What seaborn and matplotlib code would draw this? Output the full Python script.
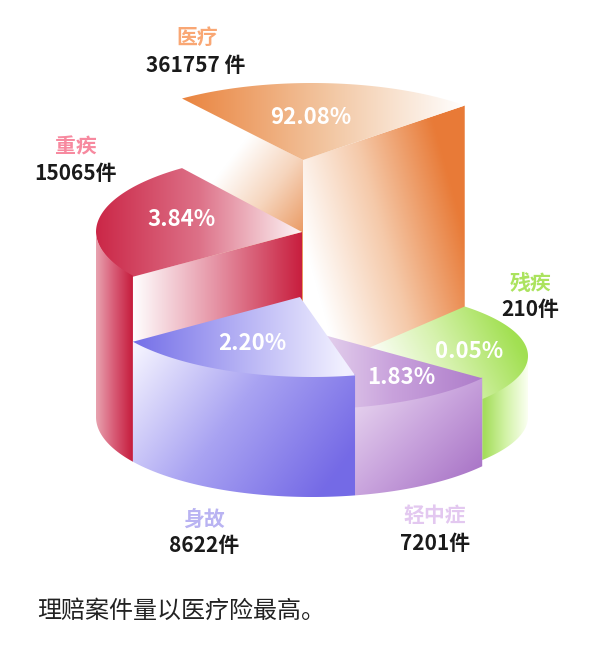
import numpy as np
import matplotlib
matplotlib.use("Agg")
import matplotlib.pyplot as plt
from matplotlib.patches import Polygon
import seaborn as sns

# values, back slice first, going anticlockwise
names = ["医疗", "重疾", "身故", "轻中症", "残疾"]
counts = ["361757 件", "15065件", "8622件", "7201件", "210件"]
shares = ["92.08%", "3.84%", "2.20%", "1.83%", "0.05%"]

# the slices are drawn as an illustration, sweep and height are not to scale with the shares
sweep_edges = [45, 127, 214, 281.5, 322, 405]
slice_heights = [257, 185, 120, 88, 61]

W, H = 603, 645
CX, BASE_Y, RX = 312, 417, 216
ry = [77, 80, 80, 80, 70]
apex_x = [303, 302, 300, 302, 350]

name_colors = ["#f9a774", "#f7899f", "#b9b3f2", "#e3c8f0", "#abe35e"]
name_pos = [(197, 38), (76, 147), (204, 519), (435, 516), (531, 283)]
count_pos = [(196, 65), (76, 174), (204, 546), (435, 543), (530, 310)]
share_pos = [(311, 118), (181, 219), (252, 344), (401, 378), (469, 351)]

sns.set_theme(style="white")
plt.rcParams["font.family"] = ["Noto Sans CJK SC", "DejaVu Sans"]

fig = plt.figure(figsize=(W / 100, H / 100), dpi=100)
ax = fig.add_axes([0, 0, 1, 1])
gx, gy = np.meshgrid(np.arange(W * 2) / 2 + 0.25, np.arange(H * 2) / 2 + 0.25)
z = [1]


def arc(i, a0, a1, top=True):
    t = np.radians(np.linspace(a0, a1, 80))
    cy = BASE_Y - (slice_heights[i] if top else 0)
    return np.column_stack([CX + RX * np.cos(t), cy - ry[i] * np.sin(t)])


def fill(poly, colors, start, end):
    # gradient image clipped to the polygon, start/end are fractions of its bounding box
    lo, hi = poly.min(axis=0), poly.max(axis=0)
    p0 = lo + (hi - lo) * np.array(start)
    p1 = lo + (hi - lo) * np.array(end)
    d = p1 - p0
    t = np.clip(((gx - p0[0]) * d[0] + (gy - p0[1]) * d[1]) / (d @ d), 0, 1)
    cmap = sns.blend_palette(colors, as_cmap=True)
    im = ax.imshow(t, cmap=cmap, vmin=0, vmax=1, extent=(0, W, H, 0),
                   interpolation="bilinear", aspect="auto", zorder=z[0])
    im.set_clip_path(Polygon(poly, transform=ax.transData))
    z[0] += 1


def wedge(i):
    cy = BASE_Y - slice_heights[i]
    return np.vstack([[apex_x[i], cy], arc(i, sweep_edges[i], sweep_edges[i + 1])])


def outer_wall(i, a0, a1):
    # top edge goes 1px under the wedge so no seam shows between them
    return np.vstack([arc(i, a0, a1) - [0, 1], arc(i, a1, a0, top=False)])


def flat_wall(i, angle):
    cy = BASE_Y - slice_heights[i]
    p = arc(i, angle, angle + 1)[0]
    h = slice_heights[i]
    return np.array([[apex_x[i], cy], p, [p[0], p[1] + h], [apex_x[i], cy + h]])


WHITE = "#ffffff"
# orange
fill(flat_wall(0, sweep_edges[1]), [WHITE, "#f6d5bd", "#ea9a63"], (0.45, 0.167), (1.124, 0.366))
fill(flat_wall(0, sweep_edges[0]), [WHITE, "#f5c9a9", "#e87b38"], (0.06, 0.535), (0.99, 0.40))
fill(wedge(0), ["#ea843f", "#f2c49e", WHITE], (0, 0), (1, 0))
# red
fill(flat_wall(1, sweep_edges[2]), [WHITE, "#e591a3", "#c81e3e"], (0, 0), (1, 0))
fill(wedge(1), ["#cb2747", "#dd7188", "#fdf5f6"], (0, 0), (1, 0))
fill(outer_wall(1, 180, sweep_edges[2]), ["#e8a3b0", "#d85a75", "#c51c3c"], (0, 0), (1, 0))
# green
fill(outer_wall(4, sweep_edges[4], 360), ["#a5de5c", "#d3f3a8", "#fbfff2"], (0.05, 0), (1, 0))
fill(wedge(4), [WHITE, "#d6f2ad", "#a2e052"], (0.15, 0.75), (0.85, 0.05))
# purple
fill(outer_wall(3, sweep_edges[3], sweep_edges[4]), ["#e9d7f0", "#c9a4dd", "#a873c6"], (0, 0.1), (0.85, 1))
fill(wedge(3), ["#ecdff2", "#c9a2dc", "#ae7dca"], (0, 0), (1, 0))
# blue
fill(outer_wall(2, sweep_edges[2], sweep_edges[3]), ["#f5f4ff", "#a9a3f2", "#756ae6"], (0.02, 0.02), (0.88, 0.92))
fill(wedge(2), ["#746fe8", "#b4b0f4", "#f1f0ff"], (0, 0), (0.95, 0))

for i in range(5):
    ax.text(*name_pos[i], names[i], color=name_colors[i], fontsize=15, fontweight="bold",
            ha="center", va="center", zorder=50)
    ax.text(*count_pos[i], counts[i], color="#1a1a1a", fontsize=15, fontweight="bold",
            ha="center", va="center", zorder=50)
    ax.text(*share_pos[i], shares[i], color="white", fontsize=16, fontweight="bold",
            ha="center", va="center", zorder=50)

ax.text(37, 611, "理赔案件量以医疗险最高。", color="#222222", fontsize=17.3,
        ha="left", va="center", zorder=50)

ax.set_xlim(0, W)
ax.set_ylim(H, 0)
ax.axis("off")
sns.despine(ax=ax, left=True, bottom=True)
fig.savefig("out.png", dpi=100, facecolor="white")
